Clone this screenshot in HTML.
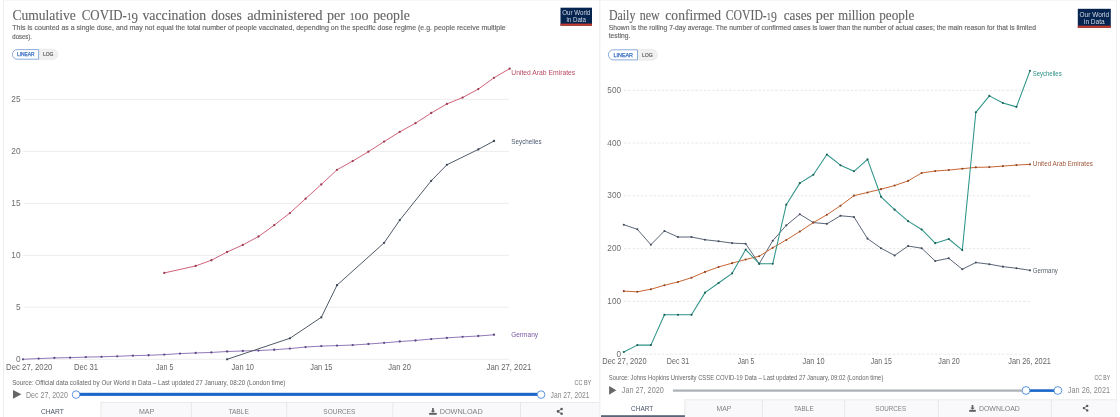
<!DOCTYPE html>
<html><head><meta charset="utf-8"><title>OWID charts</title>
<style>
html,body{margin:0;padding:0;background:#ffffff;width:1120px;height:417px;overflow:hidden;font-family:"Liberation Sans", sans-serif;}
svg{display:block;filter:blur(0.4px);}
</style></head>
<body>
<svg width="1120" height="417" viewBox="0 0 1120 417">
<rect x="0" y="0" width="1120" height="417" fill="#ffffff"/>
<rect x="3.00" y="0.00" width="596.00" height="417.00" fill="#ffffff" rx="0"/>
<line x1="3.50" y1="0.00" x2="3.50" y2="417.00" stroke="#eeeeee" stroke-width="1"/>
<line x1="3.00" y1="0.50" x2="599.00" y2="0.50" stroke="#f7f7f7" stroke-width="1"/>
<text x="12.45" y="19.75" font-family="Liberation Serif" font-size="14.8" fill="#656565" text-anchor="start" font-weight="normal" textLength="63.30" lengthAdjust="spacingAndGlyphs" stroke="#656565" stroke-width="0.12">Cumulative</text>
<text x="81.75" y="19.75" font-family="Liberation Serif" font-size="14.8" fill="#656565" text-anchor="start" font-weight="normal" textLength="56.10" lengthAdjust="spacingAndGlyphs" stroke="#656565" stroke-width="0.12">COVID-<tspan font-size="10.3">1</tspan><tspan dy="2.9">9</tspan></text>
<text x="142.45" y="19.75" font-family="Liberation Serif" font-size="14.8" fill="#656565" text-anchor="start" font-weight="normal" textLength="63.60" lengthAdjust="spacingAndGlyphs" stroke="#656565" stroke-width="0.12">vaccination</text>
<text x="211.15" y="19.75" font-family="Liberation Serif" font-size="14.8" fill="#656565" text-anchor="start" font-weight="normal" textLength="30.70" lengthAdjust="spacingAndGlyphs" stroke="#656565" stroke-width="0.12">doses</text>
<text x="247.15" y="19.75" font-family="Liberation Serif" font-size="14.8" fill="#656565" text-anchor="start" font-weight="normal" textLength="75.30" lengthAdjust="spacingAndGlyphs" stroke="#656565" stroke-width="0.12">administered</text>
<text x="327.05" y="19.75" font-family="Liberation Serif" font-size="14.8" fill="#656565" text-anchor="start" font-weight="normal" textLength="18.00" lengthAdjust="spacingAndGlyphs" stroke="#656565" stroke-width="0.12">per</text>
<text x="349.65" y="19.75" font-family="Liberation Serif" font-size="14.8" fill="#656565" text-anchor="start" font-weight="normal" textLength="19.00" lengthAdjust="spacingAndGlyphs" stroke="#656565" stroke-width="0.12"><tspan font-size="10.3">1</tspan>oo</text>
<text x="373.25" y="19.75" font-family="Liberation Serif" font-size="14.8" fill="#656565" text-anchor="start" font-weight="normal" textLength="36.60" lengthAdjust="spacingAndGlyphs" stroke="#656565" stroke-width="0.12">people</text>
<text x="12.35" y="30.10" font-family="Liberation Sans" font-size="7.2" fill="#666666" text-anchor="start" font-weight="normal" textLength="493.30" lengthAdjust="spacingAndGlyphs" stroke="#666666" stroke-width="0.15">This is counted as a single dose, and may not equal the total number of people vaccinated, depending on the specific dose regime (e.g. people receive multiple</text>
<text x="12.35" y="38.70" font-family="Liberation Sans" font-size="7.2" fill="#666666" text-anchor="start" font-weight="normal" textLength="19.60" lengthAdjust="spacingAndGlyphs" stroke="#666666" stroke-width="0.15">doses).</text>
<rect x="560.50" y="7.70" width="31.50" height="18.00" fill="#062450" rx="0"/>
<rect x="560.50" y="23.60" width="31.50" height="2.10" fill="#c43a2c" rx="0"/>
<text x="576.25" y="14.99" font-family="Liberation Sans" font-size="7.0" fill="#d0d9e6" text-anchor="middle" font-weight="normal" textLength="28.00" lengthAdjust="spacingAndGlyphs">Our World</text>
<text x="576.25" y="21.92" font-family="Liberation Sans" font-size="7.0" fill="#d0d9e6" text-anchor="middle" font-weight="normal" textLength="19.60" lengthAdjust="spacingAndGlyphs">in Data</text>
<path d="M38.60,49.20 H52.60 A5.20,5.20 0 0 1 52.60,59.60 H38.60 Z" fill="#f0f0f0" stroke="#e6e6e6" stroke-width="0.6"/>
<path d="M17.20,49.60 H38.60 V59.20 H17.20 A4.80,4.80 0 0 1 17.20,49.60 Z" fill="#ffffff" stroke="#7fa3d6" stroke-width="0.9"/>
<text x="25.80" y="56.10" font-family="Liberation Sans" font-size="4.83" fill="#3f74c6" text-anchor="middle" font-weight="normal" textLength="17.56" lengthAdjust="spacingAndGlyphs" stroke="#3f74c6" stroke-width="0.25">LINEAR</text>
<text x="48.20" y="56.10" font-family="Liberation Sans" font-size="4.83" fill="#666666" text-anchor="middle" font-weight="normal" textLength="10.56" lengthAdjust="spacingAndGlyphs" stroke="#666666" stroke-width="0.2">LOG</text>
<line x1="23.40" y1="359.30" x2="509.00" y2="359.30" stroke="#e9e9e9" stroke-width="0.8"/>
<text x="20.50" y="361.75" font-family="Liberation Sans" font-size="8.3" fill="#6e6e6e" text-anchor="end" font-weight="normal">0</text>
<line x1="23.40" y1="307.32" x2="509.00" y2="307.32" stroke="#e9e9e9" stroke-width="0.8"/>
<text x="20.50" y="309.77" font-family="Liberation Sans" font-size="8.3" fill="#6e6e6e" text-anchor="end" font-weight="normal">5</text>
<line x1="23.40" y1="255.34" x2="509.00" y2="255.34" stroke="#e9e9e9" stroke-width="0.8"/>
<text x="20.50" y="257.79" font-family="Liberation Sans" font-size="8.3" fill="#6e6e6e" text-anchor="end" font-weight="normal">10</text>
<line x1="23.40" y1="203.36" x2="509.00" y2="203.36" stroke="#e9e9e9" stroke-width="0.8"/>
<text x="20.50" y="205.81" font-family="Liberation Sans" font-size="8.3" fill="#6e6e6e" text-anchor="end" font-weight="normal">15</text>
<line x1="23.40" y1="151.38" x2="509.00" y2="151.38" stroke="#e9e9e9" stroke-width="0.8"/>
<text x="20.50" y="153.83" font-family="Liberation Sans" font-size="8.3" fill="#6e6e6e" text-anchor="end" font-weight="normal">20</text>
<line x1="23.40" y1="99.40" x2="509.00" y2="99.40" stroke="#e9e9e9" stroke-width="0.8"/>
<text x="20.50" y="101.85" font-family="Liberation Sans" font-size="8.3" fill="#6e6e6e" text-anchor="end" font-weight="normal">25</text>
<text x="6.10" y="369.55" font-family="Liberation Sans" font-size="8.4" fill="#666666" text-anchor="start" font-weight="normal" textLength="46.25" lengthAdjust="spacingAndGlyphs">Dec 27, 2020</text>
<text x="73.95" y="369.55" font-family="Liberation Sans" font-size="8.4" fill="#666666" text-anchor="start" font-weight="normal" textLength="24.10" lengthAdjust="spacingAndGlyphs">Dec 31</text>
<text x="155.95" y="369.55" font-family="Liberation Sans" font-size="8.4" fill="#666666" text-anchor="start" font-weight="normal" textLength="17.50" lengthAdjust="spacingAndGlyphs">Jan 5</text>
<text x="231.55" y="369.55" font-family="Liberation Sans" font-size="8.4" fill="#666666" text-anchor="start" font-weight="normal" textLength="22.40" lengthAdjust="spacingAndGlyphs">Jan 10</text>
<text x="310.25" y="369.55" font-family="Liberation Sans" font-size="8.4" fill="#666666" text-anchor="start" font-weight="normal" textLength="22.10" lengthAdjust="spacingAndGlyphs">Jan 15</text>
<text x="388.25" y="369.55" font-family="Liberation Sans" font-size="8.4" fill="#666666" text-anchor="start" font-weight="normal" textLength="22.60" lengthAdjust="spacingAndGlyphs">Jan 20</text>
<text x="486.55" y="369.55" font-family="Liberation Sans" font-size="8.4" fill="#666666" text-anchor="start" font-weight="normal" textLength="44.80" lengthAdjust="spacingAndGlyphs">Jan 27, 2021</text>
<polyline points="23.00,359.30 38.70,358.57 54.40,357.95 70.10,357.64 85.80,357.12 101.50,356.80 117.20,356.29 132.90,355.66 148.60,355.25 164.30,354.62 180.00,353.58 195.70,352.96 211.40,352.44 227.10,351.50 242.80,350.98 258.50,350.57 274.20,349.74 289.90,348.59 305.60,347.03 321.30,346.10 337.00,345.58 352.70,345.06 368.40,344.02 384.10,342.87 399.80,341.52 415.50,340.48 431.20,339.03 446.90,337.88 462.60,336.84 478.30,336.01 494.00,334.77" fill="none" stroke="#9079b8" stroke-width="1.0" stroke-linejoin="round"/>
<circle cx="23.00" cy="359.30" r="1.15" fill="#5d4a85"/>
<circle cx="38.70" cy="358.57" r="1.15" fill="#5d4a85"/>
<circle cx="54.40" cy="357.95" r="1.15" fill="#5d4a85"/>
<circle cx="70.10" cy="357.64" r="1.15" fill="#5d4a85"/>
<circle cx="85.80" cy="357.12" r="1.15" fill="#5d4a85"/>
<circle cx="101.50" cy="356.80" r="1.15" fill="#5d4a85"/>
<circle cx="117.20" cy="356.29" r="1.15" fill="#5d4a85"/>
<circle cx="132.90" cy="355.66" r="1.15" fill="#5d4a85"/>
<circle cx="148.60" cy="355.25" r="1.15" fill="#5d4a85"/>
<circle cx="164.30" cy="354.62" r="1.15" fill="#5d4a85"/>
<circle cx="180.00" cy="353.58" r="1.15" fill="#5d4a85"/>
<circle cx="195.70" cy="352.96" r="1.15" fill="#5d4a85"/>
<circle cx="211.40" cy="352.44" r="1.15" fill="#5d4a85"/>
<circle cx="227.10" cy="351.50" r="1.15" fill="#5d4a85"/>
<circle cx="242.80" cy="350.98" r="1.15" fill="#5d4a85"/>
<circle cx="258.50" cy="350.57" r="1.15" fill="#5d4a85"/>
<circle cx="274.20" cy="349.74" r="1.15" fill="#5d4a85"/>
<circle cx="289.90" cy="348.59" r="1.15" fill="#5d4a85"/>
<circle cx="305.60" cy="347.03" r="1.15" fill="#5d4a85"/>
<circle cx="321.30" cy="346.10" r="1.15" fill="#5d4a85"/>
<circle cx="337.00" cy="345.58" r="1.15" fill="#5d4a85"/>
<circle cx="352.70" cy="345.06" r="1.15" fill="#5d4a85"/>
<circle cx="368.40" cy="344.02" r="1.15" fill="#5d4a85"/>
<circle cx="384.10" cy="342.87" r="1.15" fill="#5d4a85"/>
<circle cx="399.80" cy="341.52" r="1.15" fill="#5d4a85"/>
<circle cx="415.50" cy="340.48" r="1.15" fill="#5d4a85"/>
<circle cx="431.20" cy="339.03" r="1.15" fill="#5d4a85"/>
<circle cx="446.90" cy="337.88" r="1.15" fill="#5d4a85"/>
<circle cx="462.60" cy="336.84" r="1.15" fill="#5d4a85"/>
<circle cx="478.30" cy="336.01" r="1.15" fill="#5d4a85"/>
<circle cx="494.00" cy="334.77" r="1.15" fill="#5d4a85"/>
<polyline points="227.10,359.30 289.90,338.30 321.30,317.30 337.00,285.18 384.10,242.86 399.80,220.10 431.20,180.80 446.90,164.79 478.30,149.40 494.00,140.98" fill="none" stroke="#505a68" stroke-width="1.0" stroke-linejoin="round"/>
<circle cx="227.10" cy="359.30" r="1.15" fill="#3a4454"/>
<circle cx="289.90" cy="338.30" r="1.15" fill="#3a4454"/>
<circle cx="321.30" cy="317.30" r="1.15" fill="#3a4454"/>
<circle cx="337.00" cy="285.18" r="1.15" fill="#3a4454"/>
<circle cx="384.10" cy="242.86" r="1.15" fill="#3a4454"/>
<circle cx="399.80" cy="220.10" r="1.15" fill="#3a4454"/>
<circle cx="431.20" cy="180.80" r="1.15" fill="#3a4454"/>
<circle cx="446.90" cy="164.79" r="1.15" fill="#3a4454"/>
<circle cx="478.30" cy="149.40" r="1.15" fill="#3a4454"/>
<circle cx="494.00" cy="140.98" r="1.15" fill="#3a4454"/>
<polyline points="164.30,272.91 195.70,265.94 211.40,260.23 227.10,252.01 242.80,244.94 258.50,236.52 274.20,225.19 289.90,213.03 305.60,198.68 321.30,184.44 337.00,169.78 352.70,161.05 368.40,151.69 384.10,141.61 399.80,131.84 415.50,123.21 431.20,113.02 446.90,103.97 462.60,97.53 478.30,89.11 494.00,77.78 509.70,68.63" fill="none" stroke="#d0627a" stroke-width="1.0" stroke-linejoin="round"/>
<circle cx="164.30" cy="272.91" r="1.15" fill="#9a3c52"/>
<circle cx="195.70" cy="265.94" r="1.15" fill="#9a3c52"/>
<circle cx="211.40" cy="260.23" r="1.15" fill="#9a3c52"/>
<circle cx="227.10" cy="252.01" r="1.15" fill="#9a3c52"/>
<circle cx="242.80" cy="244.94" r="1.15" fill="#9a3c52"/>
<circle cx="258.50" cy="236.52" r="1.15" fill="#9a3c52"/>
<circle cx="274.20" cy="225.19" r="1.15" fill="#9a3c52"/>
<circle cx="289.90" cy="213.03" r="1.15" fill="#9a3c52"/>
<circle cx="305.60" cy="198.68" r="1.15" fill="#9a3c52"/>
<circle cx="321.30" cy="184.44" r="1.15" fill="#9a3c52"/>
<circle cx="337.00" cy="169.78" r="1.15" fill="#9a3c52"/>
<circle cx="352.70" cy="161.05" r="1.15" fill="#9a3c52"/>
<circle cx="368.40" cy="151.69" r="1.15" fill="#9a3c52"/>
<circle cx="384.10" cy="141.61" r="1.15" fill="#9a3c52"/>
<circle cx="399.80" cy="131.84" r="1.15" fill="#9a3c52"/>
<circle cx="415.50" cy="123.21" r="1.15" fill="#9a3c52"/>
<circle cx="431.20" cy="113.02" r="1.15" fill="#9a3c52"/>
<circle cx="446.90" cy="103.97" r="1.15" fill="#9a3c52"/>
<circle cx="462.60" cy="97.53" r="1.15" fill="#9a3c52"/>
<circle cx="478.30" cy="89.11" r="1.15" fill="#9a3c52"/>
<circle cx="494.00" cy="77.78" r="1.15" fill="#9a3c52"/>
<circle cx="509.70" cy="68.63" r="1.15" fill="#9a3c52"/>
<text x="511.25" y="74.70" font-family="Liberation Sans" font-size="7.3" fill="#b94a63" text-anchor="start" font-weight="normal" textLength="64.00" lengthAdjust="spacingAndGlyphs">United Arab Emirates</text>
<text x="511.35" y="143.60" font-family="Liberation Sans" font-size="7.3" fill="#4a5a70" text-anchor="start" font-weight="normal" textLength="30.30" lengthAdjust="spacingAndGlyphs">Seychelles</text>
<text x="511.15" y="337.20" font-family="Liberation Sans" font-size="7.3" fill="#7a5aa0" text-anchor="start" font-weight="normal" textLength="26.90" lengthAdjust="spacingAndGlyphs">Germany</text>
<text x="12.15" y="384.90" font-family="Liberation Sans" font-size="6.9" fill="#666666" text-anchor="start" font-weight="normal" textLength="273.30" lengthAdjust="spacingAndGlyphs">Source: Official data collated by Our World in Data – Last updated 27 January, 08:20 (London time)</text>
<text x="574.45" y="384.80" font-family="Liberation Sans" font-size="7.3" fill="#707070" text-anchor="start" font-weight="normal" textLength="16.80" lengthAdjust="spacingAndGlyphs">CC BY</text>
<path d="M13,390 L21.4,394.35 L13,398.7 Z" fill="#666666"/>
<text x="26.05" y="397.85" font-family="Liberation Sans" font-size="8.6" fill="#888888" text-anchor="start" font-weight="normal" textLength="41.80" lengthAdjust="spacingAndGlyphs">Dec 27, 2020</text>
<rect x="76.10" y="392.80" width="465.00" height="3.10" fill="#1a66c9" rx="0"/>
<circle cx="76.1" cy="394.6" r="3.8" fill="#ffffff" stroke="#4a88d8" stroke-width="0.9"/>
<circle cx="541.1" cy="394.6" r="3.8" fill="#ffffff" stroke="#4a88d8" stroke-width="0.9"/>
<text x="550.55" y="397.75" font-family="Liberation Sans" font-size="8.6" fill="#888888" text-anchor="start" font-weight="normal" textLength="38.90" lengthAdjust="spacingAndGlyphs">Jan 27, 2021</text>
<rect x="101.00" y="402.00" width="90.40" height="16.00" fill="#f9f9fb" rx="0"/>
<line x1="101.00" y1="402.50" x2="191.40" y2="402.50" stroke="#ebebeb" stroke-width="1"/>
<line x1="101.00" y1="402.00" x2="101.00" y2="417.00" stroke="#e8e8e8" stroke-width="1"/>
<rect x="191.40" y="402.00" width="95.30" height="16.00" fill="#f9f9fb" rx="0"/>
<line x1="191.40" y1="402.50" x2="286.70" y2="402.50" stroke="#ebebeb" stroke-width="1"/>
<line x1="191.40" y1="402.00" x2="191.40" y2="417.00" stroke="#e8e8e8" stroke-width="1"/>
<rect x="286.70" y="402.00" width="106.10" height="16.00" fill="#f9f9fb" rx="0"/>
<line x1="286.70" y1="402.50" x2="392.80" y2="402.50" stroke="#ebebeb" stroke-width="1"/>
<line x1="286.70" y1="402.00" x2="286.70" y2="417.00" stroke="#e8e8e8" stroke-width="1"/>
<rect x="392.80" y="402.00" width="127.70" height="16.00" fill="#f9f9fb" rx="0"/>
<line x1="392.80" y1="402.50" x2="520.50" y2="402.50" stroke="#ebebeb" stroke-width="1"/>
<line x1="392.80" y1="402.00" x2="392.80" y2="417.00" stroke="#e8e8e8" stroke-width="1"/>
<rect x="520.50" y="402.00" width="78.70" height="16.00" fill="#f9f9fb" rx="0"/>
<line x1="520.50" y1="402.50" x2="599.20" y2="402.50" stroke="#ebebeb" stroke-width="1"/>
<line x1="520.50" y1="402.00" x2="520.50" y2="417.00" stroke="#e8e8e8" stroke-width="1"/>
<text x="40.95" y="414.40" font-family="Liberation Sans" font-size="7.4" fill="#4a5568" text-anchor="start" font-weight="normal" textLength="22.90" lengthAdjust="spacingAndGlyphs">CHART</text>
<text x="138.95" y="414.40" font-family="Liberation Sans" font-size="7.4" fill="#808080" text-anchor="start" font-weight="normal" textLength="15.30" lengthAdjust="spacingAndGlyphs">MAP</text>
<text x="228.45" y="414.40" font-family="Liberation Sans" font-size="7.4" fill="#808080" text-anchor="start" font-weight="normal" textLength="20.40" lengthAdjust="spacingAndGlyphs">TABLE</text>
<text x="323.35" y="414.40" font-family="Liberation Sans" font-size="7.4" fill="#808080" text-anchor="start" font-weight="normal" textLength="32.10" lengthAdjust="spacingAndGlyphs">SOURCES</text>
<path d="M432.10,407.90 H433.80 V410.80 H435.25 L432.95,412.87 L430.65,410.80 H432.10 Z" fill="#5f5f5f"/>
<rect x="429.20" y="412.87" width="7.50" height="1.93" fill="#5f5f5f"/>
<text x="439.65" y="414.40" font-family="Liberation Sans" font-size="7.4" fill="#808080" text-anchor="start" font-weight="normal" textLength="43.10" lengthAdjust="spacingAndGlyphs">DOWNLOAD</text>
<path d="M558.0,411.4 L561.6,409.0 M558.0,411.4 L561.6,413.7" stroke="#5a5a5a" stroke-width="0.8" fill="none"/>
<circle cx="558.0" cy="411.4" r="1.3" fill="#5a5a5a"/>
<circle cx="561.6" cy="409.0" r="1.3" fill="#5a5a5a"/>
<circle cx="561.6" cy="413.7" r="1.3" fill="#5a5a5a"/>
<rect x="599.50" y="0.00" width="517.00" height="417.00" fill="#ffffff" rx="0"/>
<line x1="599.80" y1="0.00" x2="599.80" y2="417.00" stroke="#ececec" stroke-width="1"/>
<line x1="1116.50" y1="0.00" x2="1116.50" y2="417.00" stroke="#efefef" stroke-width="1"/>
<line x1="600.00" y1="0.50" x2="1117.00" y2="0.50" stroke="#f6f6f6" stroke-width="1"/>
<text x="608.95" y="19.75" font-family="Liberation Serif" font-size="13.6" fill="#656565" text-anchor="start" font-weight="normal" textLength="26.40" lengthAdjust="spacingAndGlyphs" stroke="#656565" stroke-width="0.12">Daily</text>
<text x="639.65" y="19.75" font-family="Liberation Serif" font-size="13.6" fill="#656565" text-anchor="start" font-weight="normal" textLength="20.00" lengthAdjust="spacingAndGlyphs" stroke="#656565" stroke-width="0.12">new</text>
<text x="665.35" y="19.75" font-family="Liberation Serif" font-size="13.6" fill="#656565" text-anchor="start" font-weight="normal" textLength="55.70" lengthAdjust="spacingAndGlyphs" stroke="#656565" stroke-width="0.12">confirmed</text>
<text x="725.75" y="19.75" font-family="Liberation Serif" font-size="13.6" fill="#656565" text-anchor="start" font-weight="normal" textLength="51.00" lengthAdjust="spacingAndGlyphs" stroke="#656565" stroke-width="0.12">COVID-<tspan font-size="9.6">1</tspan><tspan dy="2.7">9</tspan></text>
<text x="783.75" y="19.75" font-family="Liberation Serif" font-size="13.6" fill="#656565" text-anchor="start" font-weight="normal" textLength="27.90" lengthAdjust="spacingAndGlyphs" stroke="#656565" stroke-width="0.12">cases</text>
<text x="815.85" y="19.75" font-family="Liberation Serif" font-size="13.6" fill="#656565" text-anchor="start" font-weight="normal" textLength="18.10" lengthAdjust="spacingAndGlyphs" stroke="#656565" stroke-width="0.12">per</text>
<text x="838.25" y="19.75" font-family="Liberation Serif" font-size="13.6" fill="#656565" text-anchor="start" font-weight="normal" textLength="36.80" lengthAdjust="spacingAndGlyphs" stroke="#656565" stroke-width="0.12">million</text>
<text x="879.25" y="19.75" font-family="Liberation Serif" font-size="13.6" fill="#656565" text-anchor="start" font-weight="normal" textLength="35.00" lengthAdjust="spacingAndGlyphs" stroke="#656565" stroke-width="0.12">people</text>
<text x="608.85" y="30.10" font-family="Liberation Sans" font-size="6.9" fill="#666666" text-anchor="start" font-weight="normal" textLength="427.10" lengthAdjust="spacingAndGlyphs" stroke="#666666" stroke-width="0.15">Shown is the rolling 7-day average. The number of confirmed cases is lower than the number of actual cases; the main reason for that is limited</text>
<text x="608.75" y="38.40" font-family="Liberation Sans" font-size="6.9" fill="#666666" text-anchor="start" font-weight="normal" textLength="21.60" lengthAdjust="spacingAndGlyphs" stroke="#666666" stroke-width="0.15">testing.</text>
<rect x="1077.80" y="8.80" width="33.00" height="19.00" fill="#062450" rx="0"/>
<rect x="1077.80" y="25.70" width="33.00" height="2.10" fill="#c43a2c" rx="0"/>
<text x="1094.30" y="16.50" font-family="Liberation Sans" font-size="7.3" fill="#d0d9e6" text-anchor="middle" font-weight="normal" textLength="29.50" lengthAdjust="spacingAndGlyphs">Our World</text>
<text x="1094.30" y="23.81" font-family="Liberation Sans" font-size="7.3" fill="#d0d9e6" text-anchor="middle" font-weight="normal" textLength="20.65" lengthAdjust="spacingAndGlyphs">in Data</text>
<path d="M637.50,49.40 H651.95 A5.45,5.45 0 0 1 651.95,60.30 H637.50 Z" fill="#f0f0f0" stroke="#e6e6e6" stroke-width="0.6"/>
<path d="M613.45,49.80 H637.50 V59.90 H613.45 A5.05,5.05 0 0 1 613.45,49.80 Z" fill="#ffffff" stroke="#7fa3d6" stroke-width="0.9"/>
<text x="623.25" y="56.59" font-family="Liberation Sans" font-size="4.9350000000000005" fill="#3f74c6" text-anchor="middle" font-weight="normal" textLength="19.47" lengthAdjust="spacingAndGlyphs" stroke="#3f74c6" stroke-width="0.25">LINEAR</text>
<text x="647.45" y="56.59" font-family="Liberation Sans" font-size="4.9350000000000005" fill="#666666" text-anchor="middle" font-weight="normal" textLength="10.94" lengthAdjust="spacingAndGlyphs" stroke="#666666" stroke-width="0.2">LOG</text>
<line x1="624" y1="354.20" x2="1030.6" y2="354.20" stroke="#e3e3e3" stroke-width="0.8" stroke-dasharray="2.6,1.6"/>
<text x="621.00" y="356.65" font-family="Liberation Sans" font-size="8.2" fill="#6e6e6e" text-anchor="end" font-weight="normal">0</text>
<line x1="624" y1="301.42" x2="1030.6" y2="301.42" stroke="#e3e3e3" stroke-width="0.8" stroke-dasharray="2.6,1.6"/>
<text x="621.00" y="303.87" font-family="Liberation Sans" font-size="8.2" fill="#6e6e6e" text-anchor="end" font-weight="normal">100</text>
<line x1="624" y1="248.64" x2="1030.6" y2="248.64" stroke="#e3e3e3" stroke-width="0.8" stroke-dasharray="2.6,1.6"/>
<text x="621.00" y="251.09" font-family="Liberation Sans" font-size="8.2" fill="#6e6e6e" text-anchor="end" font-weight="normal">200</text>
<line x1="624" y1="195.86" x2="1030.6" y2="195.86" stroke="#e3e3e3" stroke-width="0.8" stroke-dasharray="2.6,1.6"/>
<text x="621.00" y="198.31" font-family="Liberation Sans" font-size="8.2" fill="#6e6e6e" text-anchor="end" font-weight="normal">300</text>
<line x1="624" y1="143.08" x2="1030.6" y2="143.08" stroke="#e3e3e3" stroke-width="0.8" stroke-dasharray="2.6,1.6"/>
<text x="621.00" y="145.53" font-family="Liberation Sans" font-size="8.2" fill="#6e6e6e" text-anchor="end" font-weight="normal">400</text>
<line x1="624" y1="90.30" x2="1030.6" y2="90.30" stroke="#e3e3e3" stroke-width="0.8" stroke-dasharray="2.6,1.6"/>
<text x="621.00" y="92.75" font-family="Liberation Sans" font-size="8.2" fill="#6e6e6e" text-anchor="end" font-weight="normal">500</text>
<text x="602.35" y="364.30" font-family="Liberation Sans" font-size="8.2" fill="#666666" text-anchor="start" font-weight="normal" textLength="44.20" lengthAdjust="spacingAndGlyphs">Dec 27, 2020</text>
<text x="666.85" y="364.30" font-family="Liberation Sans" font-size="8.2" fill="#666666" text-anchor="start" font-weight="normal" textLength="22.40" lengthAdjust="spacingAndGlyphs">Dec 31</text>
<text x="737.85" y="364.30" font-family="Liberation Sans" font-size="8.2" fill="#666666" text-anchor="start" font-weight="normal" textLength="16.50" lengthAdjust="spacingAndGlyphs">Jan 5</text>
<text x="802.55" y="364.30" font-family="Liberation Sans" font-size="8.2" fill="#666666" text-anchor="start" font-weight="normal" textLength="22.10" lengthAdjust="spacingAndGlyphs">Jan 10</text>
<text x="870.85" y="364.30" font-family="Liberation Sans" font-size="8.2" fill="#666666" text-anchor="start" font-weight="normal" textLength="21.00" lengthAdjust="spacingAndGlyphs">Jan 15</text>
<text x="938.35" y="364.30" font-family="Liberation Sans" font-size="8.2" fill="#666666" text-anchor="start" font-weight="normal" textLength="21.50" lengthAdjust="spacingAndGlyphs">Jan 20</text>
<text x="1008.25" y="364.30" font-family="Liberation Sans" font-size="8.2" fill="#666666" text-anchor="start" font-weight="normal" textLength="42.70" lengthAdjust="spacingAndGlyphs">Jan 26, 2021</text>
<polyline points="623.80,224.73 637.34,229.32 650.88,244.73 664.42,230.96 677.96,237.03 691.50,237.03 705.04,239.72 718.58,241.25 732.12,243.10 745.66,243.73 759.20,263.74 772.74,240.72 786.28,225.36 799.82,214.23 813.36,222.57 826.90,223.83 840.44,215.76 853.98,216.97 867.52,238.61 881.06,248.22 894.60,255.45 908.14,246.00 921.68,248.22 935.22,261.04 948.76,258.25 962.30,269.28 975.84,262.52 989.38,264.21 1002.92,266.64 1016.46,268.22 1030.00,270.33" fill="none" stroke="#5b6677" stroke-width="1.0" stroke-linejoin="round"/>
<circle cx="623.80" cy="224.73" r="1.05" fill="#3f4a5a"/>
<circle cx="637.34" cy="229.32" r="1.05" fill="#3f4a5a"/>
<circle cx="650.88" cy="244.73" r="1.05" fill="#3f4a5a"/>
<circle cx="664.42" cy="230.96" r="1.05" fill="#3f4a5a"/>
<circle cx="677.96" cy="237.03" r="1.05" fill="#3f4a5a"/>
<circle cx="691.50" cy="237.03" r="1.05" fill="#3f4a5a"/>
<circle cx="705.04" cy="239.72" r="1.05" fill="#3f4a5a"/>
<circle cx="718.58" cy="241.25" r="1.05" fill="#3f4a5a"/>
<circle cx="732.12" cy="243.10" r="1.05" fill="#3f4a5a"/>
<circle cx="745.66" cy="243.73" r="1.05" fill="#3f4a5a"/>
<circle cx="759.20" cy="263.74" r="1.05" fill="#3f4a5a"/>
<circle cx="772.74" cy="240.72" r="1.05" fill="#3f4a5a"/>
<circle cx="786.28" cy="225.36" r="1.05" fill="#3f4a5a"/>
<circle cx="799.82" cy="214.23" r="1.05" fill="#3f4a5a"/>
<circle cx="813.36" cy="222.57" r="1.05" fill="#3f4a5a"/>
<circle cx="826.90" cy="223.83" r="1.05" fill="#3f4a5a"/>
<circle cx="840.44" cy="215.76" r="1.05" fill="#3f4a5a"/>
<circle cx="853.98" cy="216.97" r="1.05" fill="#3f4a5a"/>
<circle cx="867.52" cy="238.61" r="1.05" fill="#3f4a5a"/>
<circle cx="881.06" cy="248.22" r="1.05" fill="#3f4a5a"/>
<circle cx="894.60" cy="255.45" r="1.05" fill="#3f4a5a"/>
<circle cx="908.14" cy="246.00" r="1.05" fill="#3f4a5a"/>
<circle cx="921.68" cy="248.22" r="1.05" fill="#3f4a5a"/>
<circle cx="935.22" cy="261.04" r="1.05" fill="#3f4a5a"/>
<circle cx="948.76" cy="258.25" r="1.05" fill="#3f4a5a"/>
<circle cx="962.30" cy="269.28" r="1.05" fill="#3f4a5a"/>
<circle cx="975.84" cy="262.52" r="1.05" fill="#3f4a5a"/>
<circle cx="989.38" cy="264.21" r="1.05" fill="#3f4a5a"/>
<circle cx="1002.92" cy="266.64" r="1.05" fill="#3f4a5a"/>
<circle cx="1016.46" cy="268.22" r="1.05" fill="#3f4a5a"/>
<circle cx="1030.00" cy="270.33" r="1.05" fill="#3f4a5a"/>
<polyline points="623.80,291.13 637.34,291.81 650.88,289.23 664.42,285.32 677.96,281.94 691.50,277.72 705.04,271.92 718.58,266.95 732.12,263.15 745.66,259.46 759.20,256.24 772.74,247.74 786.28,239.93 799.82,231.54 813.36,222.57 826.90,214.76 840.44,205.73 853.98,195.65 867.52,192.48 881.06,189.16 894.60,185.57 908.14,180.87 921.68,172.95 935.22,171.05 948.76,170.05 962.30,168.68 975.84,167.36 989.38,167.09 1002.92,166.09 1016.46,165.09 1030.00,164.35" fill="none" stroke="#c86634" stroke-width="1.0" stroke-linejoin="round"/>
<circle cx="623.80" cy="291.13" r="1.05" fill="#8e4524"/>
<circle cx="637.34" cy="291.81" r="1.05" fill="#8e4524"/>
<circle cx="650.88" cy="289.23" r="1.05" fill="#8e4524"/>
<circle cx="664.42" cy="285.32" r="1.05" fill="#8e4524"/>
<circle cx="677.96" cy="281.94" r="1.05" fill="#8e4524"/>
<circle cx="691.50" cy="277.72" r="1.05" fill="#8e4524"/>
<circle cx="705.04" cy="271.92" r="1.05" fill="#8e4524"/>
<circle cx="718.58" cy="266.95" r="1.05" fill="#8e4524"/>
<circle cx="732.12" cy="263.15" r="1.05" fill="#8e4524"/>
<circle cx="745.66" cy="259.46" r="1.05" fill="#8e4524"/>
<circle cx="759.20" cy="256.24" r="1.05" fill="#8e4524"/>
<circle cx="772.74" cy="247.74" r="1.05" fill="#8e4524"/>
<circle cx="786.28" cy="239.93" r="1.05" fill="#8e4524"/>
<circle cx="799.82" cy="231.54" r="1.05" fill="#8e4524"/>
<circle cx="813.36" cy="222.57" r="1.05" fill="#8e4524"/>
<circle cx="826.90" cy="214.76" r="1.05" fill="#8e4524"/>
<circle cx="840.44" cy="205.73" r="1.05" fill="#8e4524"/>
<circle cx="853.98" cy="195.65" r="1.05" fill="#8e4524"/>
<circle cx="867.52" cy="192.48" r="1.05" fill="#8e4524"/>
<circle cx="881.06" cy="189.16" r="1.05" fill="#8e4524"/>
<circle cx="894.60" cy="185.57" r="1.05" fill="#8e4524"/>
<circle cx="908.14" cy="180.87" r="1.05" fill="#8e4524"/>
<circle cx="921.68" cy="172.95" r="1.05" fill="#8e4524"/>
<circle cx="935.22" cy="171.05" r="1.05" fill="#8e4524"/>
<circle cx="948.76" cy="170.05" r="1.05" fill="#8e4524"/>
<circle cx="962.30" cy="168.68" r="1.05" fill="#8e4524"/>
<circle cx="975.84" cy="167.36" r="1.05" fill="#8e4524"/>
<circle cx="989.38" cy="167.09" r="1.05" fill="#8e4524"/>
<circle cx="1002.92" cy="166.09" r="1.05" fill="#8e4524"/>
<circle cx="1016.46" cy="165.09" r="1.05" fill="#8e4524"/>
<circle cx="1030.00" cy="164.35" r="1.05" fill="#8e4524"/>
<polyline points="623.80,351.98 637.34,345.12 650.88,345.12 664.42,314.83 677.96,314.83 691.50,314.83 705.04,292.61 718.58,283.05 732.12,273.34 745.66,249.54 759.20,263.74 772.74,263.74 786.28,204.67 799.82,183.14 813.36,174.75 826.90,154.48 840.44,165.19 853.98,171.32 867.52,159.39 881.06,196.76 894.60,209.64 908.14,221.14 921.68,229.43 935.22,243.15 948.76,238.98 962.30,250.12 975.84,112.31 989.38,95.89 1002.92,103.07 1016.46,106.87 1030.00,70.72" fill="none" stroke="#2e9488" stroke-width="1.05" stroke-linejoin="round"/>
<circle cx="623.80" cy="351.98" r="1.05" fill="#1d5f58"/>
<circle cx="637.34" cy="345.12" r="1.05" fill="#1d5f58"/>
<circle cx="650.88" cy="345.12" r="1.05" fill="#1d5f58"/>
<circle cx="664.42" cy="314.83" r="1.05" fill="#1d5f58"/>
<circle cx="677.96" cy="314.83" r="1.05" fill="#1d5f58"/>
<circle cx="691.50" cy="314.83" r="1.05" fill="#1d5f58"/>
<circle cx="705.04" cy="292.61" r="1.05" fill="#1d5f58"/>
<circle cx="718.58" cy="283.05" r="1.05" fill="#1d5f58"/>
<circle cx="732.12" cy="273.34" r="1.05" fill="#1d5f58"/>
<circle cx="745.66" cy="249.54" r="1.05" fill="#1d5f58"/>
<circle cx="759.20" cy="263.74" r="1.05" fill="#1d5f58"/>
<circle cx="772.74" cy="263.74" r="1.05" fill="#1d5f58"/>
<circle cx="786.28" cy="204.67" r="1.05" fill="#1d5f58"/>
<circle cx="799.82" cy="183.14" r="1.05" fill="#1d5f58"/>
<circle cx="813.36" cy="174.75" r="1.05" fill="#1d5f58"/>
<circle cx="826.90" cy="154.48" r="1.05" fill="#1d5f58"/>
<circle cx="840.44" cy="165.19" r="1.05" fill="#1d5f58"/>
<circle cx="853.98" cy="171.32" r="1.05" fill="#1d5f58"/>
<circle cx="867.52" cy="159.39" r="1.05" fill="#1d5f58"/>
<circle cx="881.06" cy="196.76" r="1.05" fill="#1d5f58"/>
<circle cx="894.60" cy="209.64" r="1.05" fill="#1d5f58"/>
<circle cx="908.14" cy="221.14" r="1.05" fill="#1d5f58"/>
<circle cx="921.68" cy="229.43" r="1.05" fill="#1d5f58"/>
<circle cx="935.22" cy="243.15" r="1.05" fill="#1d5f58"/>
<circle cx="948.76" cy="238.98" r="1.05" fill="#1d5f58"/>
<circle cx="962.30" cy="250.12" r="1.05" fill="#1d5f58"/>
<circle cx="975.84" cy="112.31" r="1.05" fill="#1d5f58"/>
<circle cx="989.38" cy="95.89" r="1.05" fill="#1d5f58"/>
<circle cx="1002.92" cy="103.07" r="1.05" fill="#1d5f58"/>
<circle cx="1016.46" cy="106.87" r="1.05" fill="#1d5f58"/>
<circle cx="1030.00" cy="70.72" r="1.05" fill="#1d5f58"/>
<text x="1032.65" y="75.90" font-family="Liberation Sans" font-size="6.6" fill="#2a8f85" text-anchor="start" font-weight="normal" textLength="29.00" lengthAdjust="spacingAndGlyphs">Seychelles</text>
<text x="1032.85" y="166.10" font-family="Liberation Sans" font-size="6.6" fill="#a0583c" text-anchor="start" font-weight="normal" textLength="60.00" lengthAdjust="spacingAndGlyphs">United Arab Emirates</text>
<text x="1032.85" y="273.40" font-family="Liberation Sans" font-size="6.6" fill="#5b6270" text-anchor="start" font-weight="normal" textLength="25.00" lengthAdjust="spacingAndGlyphs">Germany</text>
<text x="608.75" y="380.00" font-family="Liberation Sans" font-size="6.7" fill="#666666" text-anchor="start" font-weight="normal" textLength="274.60" lengthAdjust="spacingAndGlyphs">Source: Johns Hopkins University CSSE COVID-19 Data – Last updated 27 January, 09:02 (London time)</text>
<text x="1094.45" y="379.80" font-family="Liberation Sans" font-size="7.1" fill="#707070" text-anchor="start" font-weight="normal" textLength="15.80" lengthAdjust="spacingAndGlyphs">CC BY</text>
<path d="M609.1,385.9 L616.3,390.35 L609.1,394.8 Z" fill="#666666"/>
<text x="621.75" y="393.45" font-family="Liberation Sans" font-size="8.3" fill="#888888" text-anchor="start" font-weight="normal" textLength="42.00" lengthAdjust="spacingAndGlyphs">Jan 27, 2020</text>
<rect x="672.90" y="389.45" width="353.10" height="2.30" fill="#aeb3b9" rx="0"/>
<rect x="1026.00" y="389.30" width="31.90" height="2.60" fill="#1a66c9" rx="0"/>
<circle cx="1026" cy="390.5" r="3.9" fill="#ffffff" stroke="#4a88d8" stroke-width="0.9"/>
<circle cx="1057.9" cy="390.5" r="3.9" fill="#ffffff" stroke="#4a88d8" stroke-width="0.9"/>
<text x="1067.85" y="393.45" font-family="Liberation Sans" font-size="8.3" fill="#888888" text-anchor="start" font-weight="normal" textLength="42.20" lengthAdjust="spacingAndGlyphs">Jan 26, 2021</text>
<rect x="684.90" y="399.30" width="77.60" height="18.00" fill="#f9f9fb" rx="0"/>
<line x1="684.90" y1="399.80" x2="762.50" y2="399.80" stroke="#ebebeb" stroke-width="1"/>
<line x1="684.90" y1="399.30" x2="684.90" y2="417.00" stroke="#e8e8e8" stroke-width="1"/>
<rect x="762.50" y="399.30" width="82.10" height="18.00" fill="#f9f9fb" rx="0"/>
<line x1="762.50" y1="399.80" x2="844.60" y2="399.80" stroke="#ebebeb" stroke-width="1"/>
<line x1="762.50" y1="399.30" x2="762.50" y2="417.00" stroke="#e8e8e8" stroke-width="1"/>
<rect x="844.60" y="399.30" width="93.70" height="18.00" fill="#f9f9fb" rx="0"/>
<line x1="844.60" y1="399.80" x2="938.30" y2="399.80" stroke="#ebebeb" stroke-width="1"/>
<line x1="844.60" y1="399.30" x2="844.60" y2="417.00" stroke="#e8e8e8" stroke-width="1"/>
<rect x="938.30" y="399.30" width="113.00" height="18.00" fill="#f9f9fb" rx="0"/>
<line x1="938.30" y1="399.80" x2="1051.30" y2="399.80" stroke="#ebebeb" stroke-width="1"/>
<line x1="938.30" y1="399.30" x2="938.30" y2="417.00" stroke="#e8e8e8" stroke-width="1"/>
<rect x="1051.30" y="399.30" width="65.20" height="18.00" fill="#f9f9fb" rx="0"/>
<line x1="1051.30" y1="399.80" x2="1116.50" y2="399.80" stroke="#ebebeb" stroke-width="1"/>
<line x1="1051.30" y1="399.30" x2="1051.30" y2="417.00" stroke="#e8e8e8" stroke-width="1"/>
<rect x="601.00" y="415.20" width="83.90" height="2.00" fill="#5a6577" rx="0"/>
<text x="631.05" y="411.20" font-family="Liberation Sans" font-size="7.0" fill="#4a5568" text-anchor="start" font-weight="normal" textLength="22.20" lengthAdjust="spacingAndGlyphs">CHART</text>
<text x="716.55" y="411.20" font-family="Liberation Sans" font-size="7.0" fill="#808080" text-anchor="start" font-weight="normal" textLength="14.70" lengthAdjust="spacingAndGlyphs">MAP</text>
<text x="793.95" y="411.20" font-family="Liberation Sans" font-size="7.0" fill="#808080" text-anchor="start" font-weight="normal" textLength="19.70" lengthAdjust="spacingAndGlyphs">TABLE</text>
<text x="875.35" y="411.20" font-family="Liberation Sans" font-size="7.0" fill="#808080" text-anchor="start" font-weight="normal" textLength="30.80" lengthAdjust="spacingAndGlyphs">SOURCES</text>
<path d="M971.65,404.90 H973.35 V407.80 H974.80 L972.50,409.87 L970.20,407.80 H971.65 Z" fill="#5f5f5f"/>
<rect x="969.20" y="409.87" width="6.60" height="1.93" fill="#5f5f5f"/>
<text x="978.95" y="411.20" font-family="Liberation Sans" font-size="7.0" fill="#808080" text-anchor="start" font-weight="normal" textLength="40.90" lengthAdjust="spacingAndGlyphs">DOWNLOAD</text>
<path d="M1083.9,408.1 L1087.2,405.9 M1083.9,408.1 L1087.2,410.4" stroke="#5a5a5a" stroke-width="0.8" fill="none"/>
<circle cx="1083.9" cy="408.1" r="1.2" fill="#5a5a5a"/>
<circle cx="1087.2" cy="405.9" r="1.2" fill="#5a5a5a"/>
<circle cx="1087.2" cy="410.4" r="1.2" fill="#5a5a5a"/>
</svg>
</body></html>
